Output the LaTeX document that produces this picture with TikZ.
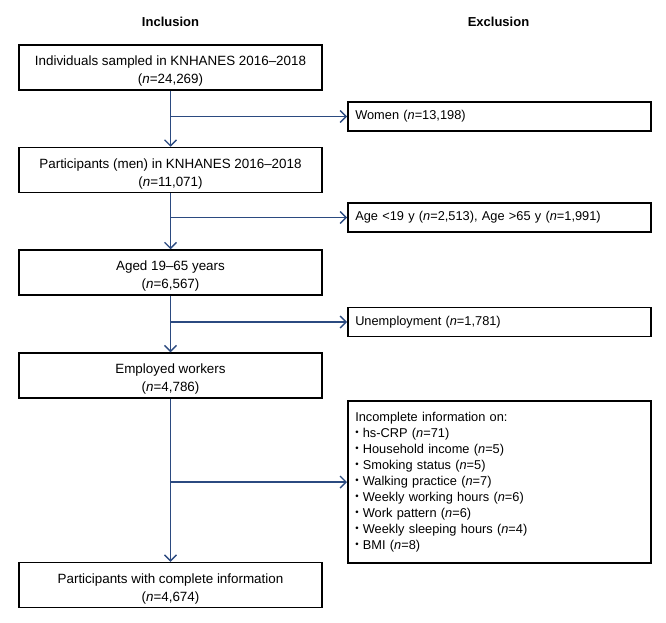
\documentclass[tikz,border=0pt]{standalone}
\usepackage{fontspec}
\setmainfont{Liberation Sans}
\usetikzlibrary{arrows.meta}
\definecolor{flowblue}{RGB}{43,74,128}
\newcommand{\dotitem}{\raisebox{0.2ex}{\scalebox{0.75}{\textbullet}}\ }
\newcommand{\topstrut}{\rule{0pt}{17pt}}
\begin{document}
\begin{tikzpicture}[x=1pt, y=-1pt,
		inbox/.style={draw, line width=1.5pt, minimum width=303pt, minimum height=45pt, align=center, inner sep=0pt, font=\fontsize{13.4}{18}\selectfont},
		exbox/.style={draw, line width=1.5pt, anchor=west, text width=288pt, minimum height=29pt, inner xsep=7.5pt, align=left, font=\fontsize{12.8}{16}\selectfont},
		head/.style={font=\fontsize{13}{16}\selectfont\bfseries},
		flow/.style={draw=flowblue, line width=1.4pt, -{Straight Barb[length=6pt, width=12pt]}}]
		\useasboundingbox (0, 0) rectangle (666, 623);
		\node[head] (hin) at (170.5, 21.5) {Inclusion};
		\node[head] (hex) at (498.5, 21.5) {Exclusion};
		\node[inbox] (in1) at (170.5, 67.5) {\topstrut Individuals sampled in KNHANES 2016--2018\\(\textit{n}=24,269)};
		\node[inbox] (in2) at (170.5, 170) {\topstrut Participants (men) in KNHANES 2016--2018\\(\textit{n}=11,071)};
		\node[inbox] (in3) at (170.5, 272.5) {\topstrut Aged 19--65 years\\(\textit{n}=6,567)};
		\node[inbox] (in4) at (170.5, 375.5) {\topstrut Employed workers\\(\textit{n}=4,786)};
		\node[inbox] (in5) at (170.5, 585) {\topstrut Participants with complete information\\(\textit{n}=4,674)};
		\node[exbox] (ex1) at (347, 116.5) {Women (\textit{n}=13,198)};
		\node[exbox] (ex2) at (347, 217.5) {Age <19 y (\textit{n}=2,513), Age >65 y (\textit{n}=1,991)};
		\node[exbox] (ex3) at (347, 322) {Unemployment (\textit{n}=1,781)};
		\node[exbox, minimum height=162pt] (ex4) at (347, 482) {Incomplete information on:\\
			\dotitem hs-CRP (\textit{n}=71)\\
			\dotitem Household income (\textit{n}=5)\\
			\dotitem Smoking status (\textit{n}=5)\\
			\dotitem Walking practice (\textit{n}=7)\\
			\dotitem Weekly working hours (\textit{n}=6)\\
			\dotitem Work pattern (\textit{n}=6)\\
			\dotitem Weekly sleeping hours (\textit{n}=4)\\
			\dotitem BMI (\textit{n}=8)};
		% main path down
		\draw[flow] (in1) -- (in2);
		\draw[flow] (in2) -- (in3);
		\draw[flow] (in3) -- (in4);
		\draw[flow] (in4) -- (in5);
		% side exits
		\draw[flow] (in1.south |- ex1.west) -- (ex1.west);
		\draw[flow] (in2.south |- ex2.west) -- (ex2.west);
		\draw[flow] (in3.south |- ex3.west) -- (ex3.west);
		\draw[flow] (in4.south |- ex4.west) -- (ex4.west);
\end{tikzpicture}
\end{document}
